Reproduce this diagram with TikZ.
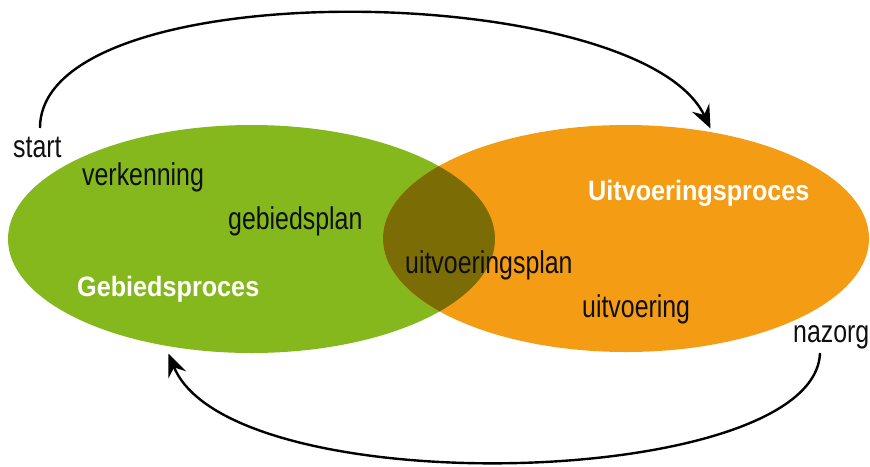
\documentclass[tikz,border=0pt]{standalone}
\usepackage{fontspec}
\setmainfont{Liberation Sans}
\newfontfamily\condreg[FakeStretch=0.79]{Liberation Sans}
\newfontfamily\condbold[FakeStretch=0.9]{Liberation Sans Bold}
\usetikzlibrary{arrows.meta}
\definecolor{gebgreen}{RGB}{132,184,28}
\definecolor{uitorange}{RGB}{243,156,20}
\definecolor{overlapc}{RGB}{124,108,5}
\definecolor{txt}{RGB}{15,15,15}
\tikzset{
  lbl/.style={anchor=base west, inner sep=0pt, text=txt, font=\condreg\fontsize{31.5}{36}\selectfont},
  title/.style={anchor=base west, inner sep=0pt, text=white, font=\condbold\fontsize{28}{33}\selectfont},
  flow/.style={line width=2.4pt, -{Stealth[length=23pt, width=19pt, inset=8pt]}},
}
\begin{document}
\begin{tikzpicture}[x=1pt, y=-1pt]
\useasboundingbox (0,0) rectangle (870,466);
% ellipses
\fill[gebgreen] (251.5,239) ellipse [x radius=243.5, y radius=114];
\fill[uitorange] (626,238.5) ellipse [x radius=243, y radius=113.5];
\begin{scope}
  \clip (251.5,239) ellipse [x radius=243.5, y radius=114];
  \fill[overlapc] (626,238.5) ellipse [x radius=243, y radius=113.5];
\end{scope}
% labels
\node[lbl] (start) at (13,157) {start};
\node[lbl] (verk) at (82,185) {verkenning};
\node[lbl] (gplan) at (228,229) {gebiedsplan};
\node[title] (gproc) at (77,296.5) {Gebiedsproces};
\node[title] (uproc) at (588,200) {Uitvoeringsproces};
\node[lbl] (uplan) at (405,273) {uitvoeringsplan};
\node[lbl] (uitv) at (582,317) {uitvoering};
\node[lbl] (nazorg) at (793,342) {nazorg};
% arrow anchors
\coordinate (a1) at (40,128);
\coordinate (a2) at (710.5,128.5);
\coordinate (b1) at (820,353);
\coordinate (b2) at (168.5,353.5);
\draw[flow] (a1) .. controls (40,-30) and (640,-20) .. (a2);
\draw[flow] (b1) .. controls (815,490) and (230,505) .. (b2);
\end{tikzpicture}
\end{document}
